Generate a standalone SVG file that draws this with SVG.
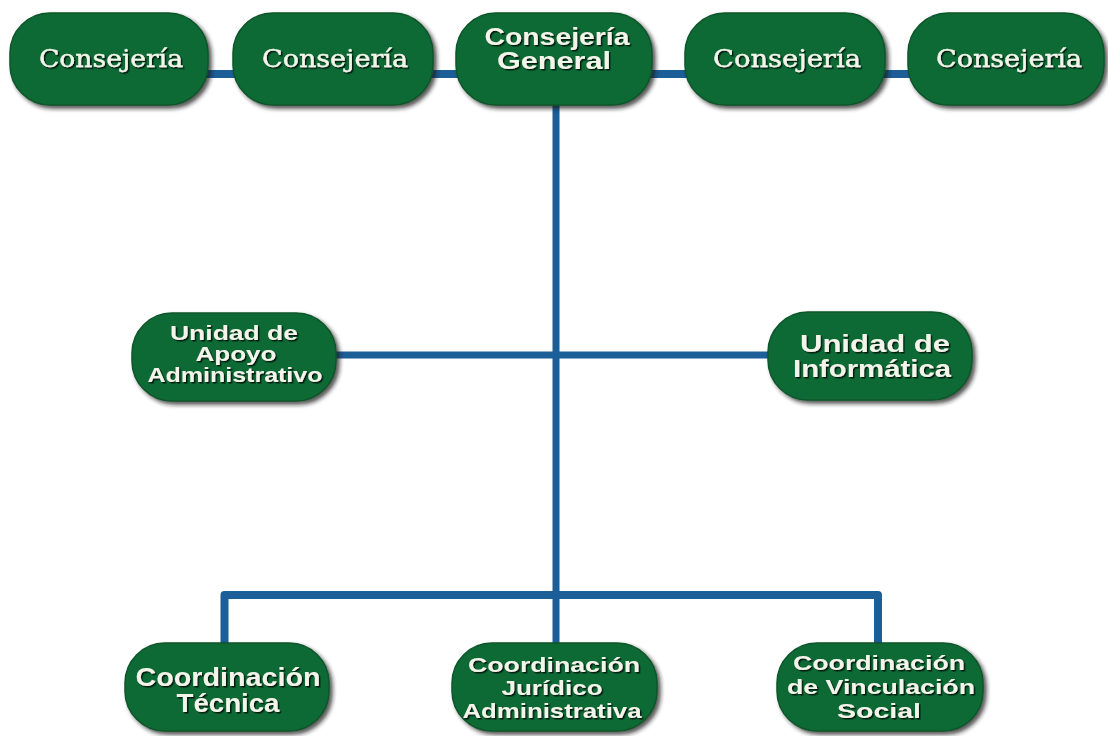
<svg xmlns="http://www.w3.org/2000/svg" width="1108" height="736" viewBox="0 0 1108 736">
<defs>
<filter id="sh" x="-10%" y="-10%" width="125%" height="130%">
<feDropShadow dx="3" dy="3" stdDeviation="2" flood-color="#1a1a1a" flood-opacity="0.75"/>
</filter>
<filter id="tsh" x="-5%" y="-20%" width="115%" height="150%">
<feDropShadow dx="1.5" dy="1.5" stdDeviation="0.6" flood-color="#03150a" flood-opacity="0.95"/>
</filter>
</defs>
<style>
.box{fill:#0e6a35;stroke:#0a5529;stroke-width:1.5;filter:url(#sh)}
.ser{font-family:"DejaVu Serif","Liberation Serif",serif;font-size:25px;fill:#f3f5ea;text-anchor:middle;stroke:#f3f5ea;stroke-width:0.4;filter:url(#tsh)}
.sans{font-family:"Liberation Sans",Arial,sans-serif;font-weight:bold;fill:#f3f5ea;text-anchor:middle;filter:url(#tsh)}
.ln{stroke:#1b5e98;fill:none;stroke-linejoin:round}
</style>
<rect width="1108" height="736" fill="#ffffff"/>
<g id="connectors">
<line class="ln" x1="200" y1="74" x2="920" y2="74" stroke-width="8"/>
<line class="ln" x1="556" y1="100" x2="556" y2="648" stroke-width="7"/>
<line class="ln" x1="330" y1="355" x2="775" y2="355" stroke-width="7"/>
<path class="ln" d="M224.5 648 V595 H878 V648" stroke-width="8"/>
</g>
<g id="n1"><rect class="box" x="10" y="13" width="198" height="92" rx="40"/>
<text class="ser" x="111" y="67" textLength="144" lengthAdjust="spacingAndGlyphs">Consejería</text></g>
<g id="n2"><rect class="box" x="233" y="13" width="200" height="92" rx="40"/>
<text class="ser" x="335" y="67" textLength="146" lengthAdjust="spacingAndGlyphs">Consejería</text></g>
<g id="n3"><rect class="box" x="456" y="13" width="196" height="92" rx="40"/>
<text class="sans" font-size="23" x="557" y="45" textLength="145" lengthAdjust="spacingAndGlyphs">Consejería</text>
<text class="sans" font-size="23" x="554" y="69" textLength="114" lengthAdjust="spacingAndGlyphs">General</text></g>
<g id="n4"><rect class="box" x="685" y="13" width="200" height="92" rx="40"/>
<text class="ser" x="787" y="67" textLength="148" lengthAdjust="spacingAndGlyphs">Consejería</text></g>
<g id="n5"><rect class="box" x="908" y="13" width="196" height="92" rx="40"/>
<text class="ser" x="1009" y="67" textLength="146" lengthAdjust="spacingAndGlyphs">Consejería</text></g>
<g id="n6"><rect class="box" x="132" y="313" width="204" height="88" rx="40"/>
<text class="sans" font-size="21" x="234" y="340" textLength="128" lengthAdjust="spacingAndGlyphs">Unidad de</text>
<text class="sans" font-size="21" x="236" y="361" textLength="81" lengthAdjust="spacingAndGlyphs">Apoyo</text>
<text class="sans" font-size="21" x="235" y="382" textLength="175" lengthAdjust="spacingAndGlyphs">Administrativo</text></g>
<g id="n7"><rect class="box" x="768" y="312" width="204" height="88" rx="40"/>
<text class="sans" font-size="24" x="875" y="352" textLength="150" lengthAdjust="spacingAndGlyphs">Unidad de</text>
<text class="sans" font-size="24" x="872" y="377" textLength="158" lengthAdjust="spacingAndGlyphs">Informática</text></g>
<g id="n8"><rect class="box" x="125" y="643" width="204" height="88" rx="40"/>
<text class="sans" font-size="25" x="228" y="686" textLength="185" lengthAdjust="spacingAndGlyphs">Coordinación</text>
<text class="sans" font-size="25" x="228" y="712" textLength="103" lengthAdjust="spacingAndGlyphs">Técnica</text></g>
<g id="n9"><rect class="box" x="452" y="643" width="205" height="88" rx="40"/>
<text class="sans" font-size="21" x="554" y="672" textLength="172" lengthAdjust="spacingAndGlyphs">Coordinación</text>
<text class="sans" font-size="21" x="552" y="695" textLength="101" lengthAdjust="spacingAndGlyphs">Jurídico</text>
<text class="sans" font-size="21" x="552" y="718" textLength="179" lengthAdjust="spacingAndGlyphs">Administrativa</text></g>
<g id="n10"><rect class="box" x="777" y="643" width="206" height="88" rx="40"/>
<text class="sans" font-size="21" x="879" y="670" textLength="172" lengthAdjust="spacingAndGlyphs">Coordinación</text>
<text class="sans" font-size="21" x="881" y="694" textLength="188" lengthAdjust="spacingAndGlyphs">de Vinculación</text>
<text class="sans" font-size="21" x="879" y="718" textLength="84" lengthAdjust="spacingAndGlyphs">Social</text></g>
</svg>
